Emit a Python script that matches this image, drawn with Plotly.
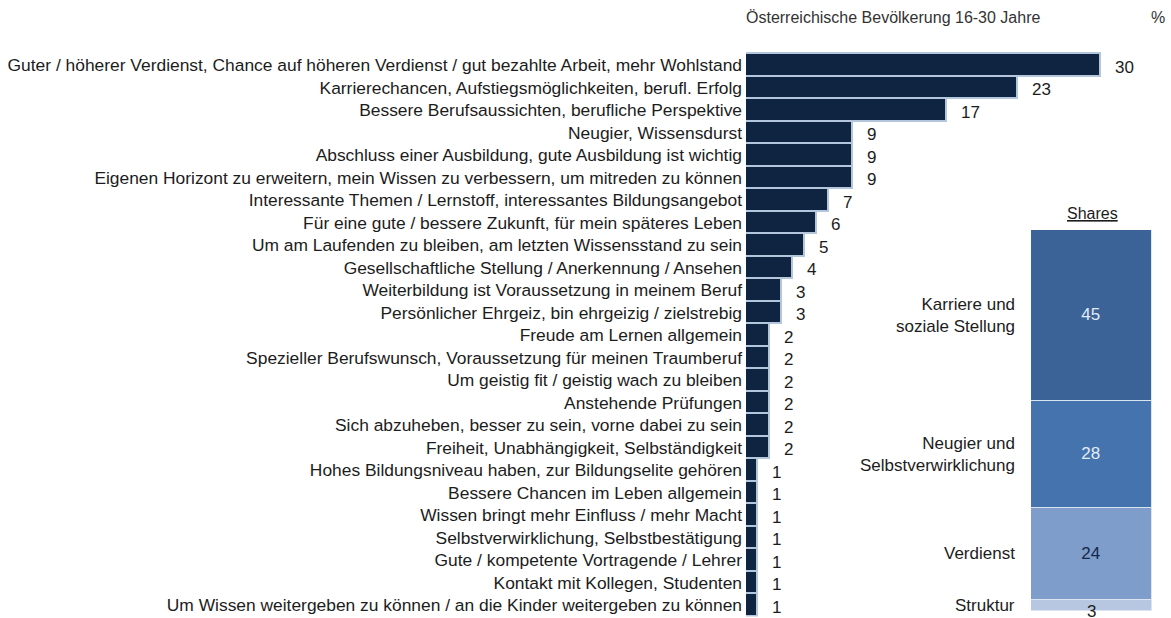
import plotly.graph_objects as go

W, H = 1171, 618

reasons = [
    "Guter / höherer Verdienst, Chance auf höheren Verdienst / gut bezahlte Arbeit, mehr Wohlstand",
    "Karrierechancen, Aufstiegsmöglichkeiten, berufl. Erfolg",
    "Bessere Berufsaussichten, berufliche Perspektive",
    "Neugier, Wissensdurst",
    "Abschluss einer Ausbildung, gute Ausbildung ist wichtig",
    "Eigenen Horizont zu erweitern, mein Wissen zu verbessern, um mitreden zu können",
    "Interessante Themen / Lernstoff, interessantes Bildungsangebot",
    "Für eine gute / bessere Zukunft, für mein späteres Leben",
    "Um am Laufenden zu bleiben, am letzten Wissensstand zu sein",
    "Gesellschaftliche Stellung / Anerkennung / Ansehen",
    "Weiterbildung ist Voraussetzung in meinem Beruf",
    "Persönlicher Ehrgeiz, bin ehrgeizig / zielstrebig",
    "Freude am Lernen allgemein",
    "Spezieller Berufswunsch, Voraussetzung für meinen Traumberuf",
    "Um geistig fit / geistig wach zu bleiben",
    "Anstehende Prüfungen",
    "Sich abzuheben, besser zu sein, vorne dabei zu sein",
    "Freiheit, Unabhängigkeit, Selbständigkeit",
    "Hohes Bildungsniveau haben, zur Bildungselite gehören",
    "Bessere Chancen im Leben allgemein",
    "Wissen bringt mehr Einfluss / mehr Macht",
    "Selbstverwirklichung, Selbstbestätigung",
    "Gute / kompetente Vortragende / Lehrer",
    "Kontakt mit Kollegen, Studenten",
    "Um Wissen weitergeben zu können / an die Kinder weitergeben zu können",
]
percent = [30, 23, 17, 9, 9, 9, 7, 6, 5, 4, 3, 3, 2, 2, 2, 2, 2, 2, 1, 1, 1, 1, 1, 1, 1]

share_groups = ["Karriere und<br>soziale Stellung", "Neugier und<br>Selbstverwirklichung",
                "Verdienst", "Struktur"]
share_values = [45, 28, 24, 3]

share_colors = ["#3b6397", "#4473ad", "#7f9dca", "#b8c7e1"]
share_text_colors = ["#e3ebf5", "#e3ebf5", "#13284a", "#13284a"]

BAR = "#0f2440"
TEXT = "#1c1c1c"
FONT = "Liberation Sans, Arial, sans-serif"
FS = 17.4


def fx(px):
    return px / W


def fy(px):
    return 1 - px / H


fig = go.Figure()

fig.add_trace(go.Bar(
    x=percent, y=reasons, orientation="h",
    marker=dict(color=BAR, line=dict(color="#b3c6dc", width=1.6)),
    xaxis="x", yaxis="y", hoverinfo="x+y", showlegend=False,
))

for grp, val, col, tcol in zip(share_groups, share_values, share_colors, share_text_colors):
    fig.add_trace(go.Bar(
        x=["Shares"], y=[val], width=1,
        marker=dict(color=col, line=dict(color="#dbe5f2", width=1.5)),
        text=[str(val)] if val >= 10 else None,
        textposition="inside" if val >= 10 else "none",
        insidetextanchor="middle",
        textfont=dict(family=FONT, size=17, color=tcol),
        xaxis="x2", yaxis="y2", hoverinfo="y", showlegend=False, name=grp,
    ))

annotations = []

# value labels to the right of each bar
for r, v in zip(reasons, percent):
    annotations.append(dict(
        x=v, y=r, xref="x", yref="y", text=str(v), showarrow=False,
        xanchor="left", xshift=12, yshift=-2,
        font=dict(family=FONT, size=17, color=TEXT),
    ))

# group labels beside the stacked column
cum = 0
for grp, val in zip(share_groups, share_values):
    mid = cum + val / 2
    cum += val
    annotations.append(dict(
        x=fx(1017), y=mid, xref="paper", yref="y2", text=grp, showarrow=False,
        xanchor="right", align="right",
        font=dict(family=FONT, size=17, color=TEXT),
    ))

# small segment value sits at the foot of the column
annotations.append(dict(
    x=0, y=100, xref="x2", yref="y2", text=str(share_values[-1]), showarrow=False,
    yanchor="middle", yshift=0,
    font=dict(family=FONT, size=17, color=TEXT),
))

annotations += [
    dict(x=fx(1092), y=fy(213), xref="paper", yref="paper", text="<u>Shares</u>",
         showarrow=False, xanchor="center", yanchor="middle",
         font=dict(family=FONT, size=16, color=TEXT)),
    dict(x=fx(744), y=fy(18), xref="paper", yref="paper",
         text="Österreichische Bevölkerung 16-30 Jahre",
         showarrow=False, xanchor="left", yanchor="middle",
         font=dict(family=FONT, size=16, color="#333333")),
    dict(x=fx(1158), y=fy(18), xref="paper", yref="paper", text="%",
         showarrow=False, xanchor="center", yanchor="middle",
         font=dict(family=FONT, size=16, color="#333333")),
]

px_per_unit = (1101 - 746) / 30

fig.update_layout(
    width=W, height=H,
    margin=dict(l=0, r=0, t=0, b=0),
    paper_bgcolor="white", plot_bgcolor="rgba(0,0,0,0)",
    barmode="stack", bargap=0.0,
    font=dict(family=FONT, size=FS, color=TEXT),
    xaxis=dict(domain=[fx(746), 1], range=[0, (W - 746) / px_per_unit],
               visible=False, anchor="y", fixedrange=True),
    yaxis=dict(domain=[fy(616.5), fy(51.5)], type="category", autorange="reversed",
               showgrid=False, zeroline=False, showline=False, ticks="",
               ticklabelstandoff=3,
               tickfont=dict(family=FONT, size=FS, color=TEXT),
               anchor="x", fixedrange=True),
    xaxis2=dict(domain=[fx(1031), fx(1152)], range=[-0.5, 0.5], visible=False,
                anchor="y2", fixedrange=True),
    yaxis2=dict(domain=[fy(611), fy(230)], range=[100, 0], visible=False,
                anchor="x2", fixedrange=True),
    annotations=annotations,
)

fig.write_html("out.html")
